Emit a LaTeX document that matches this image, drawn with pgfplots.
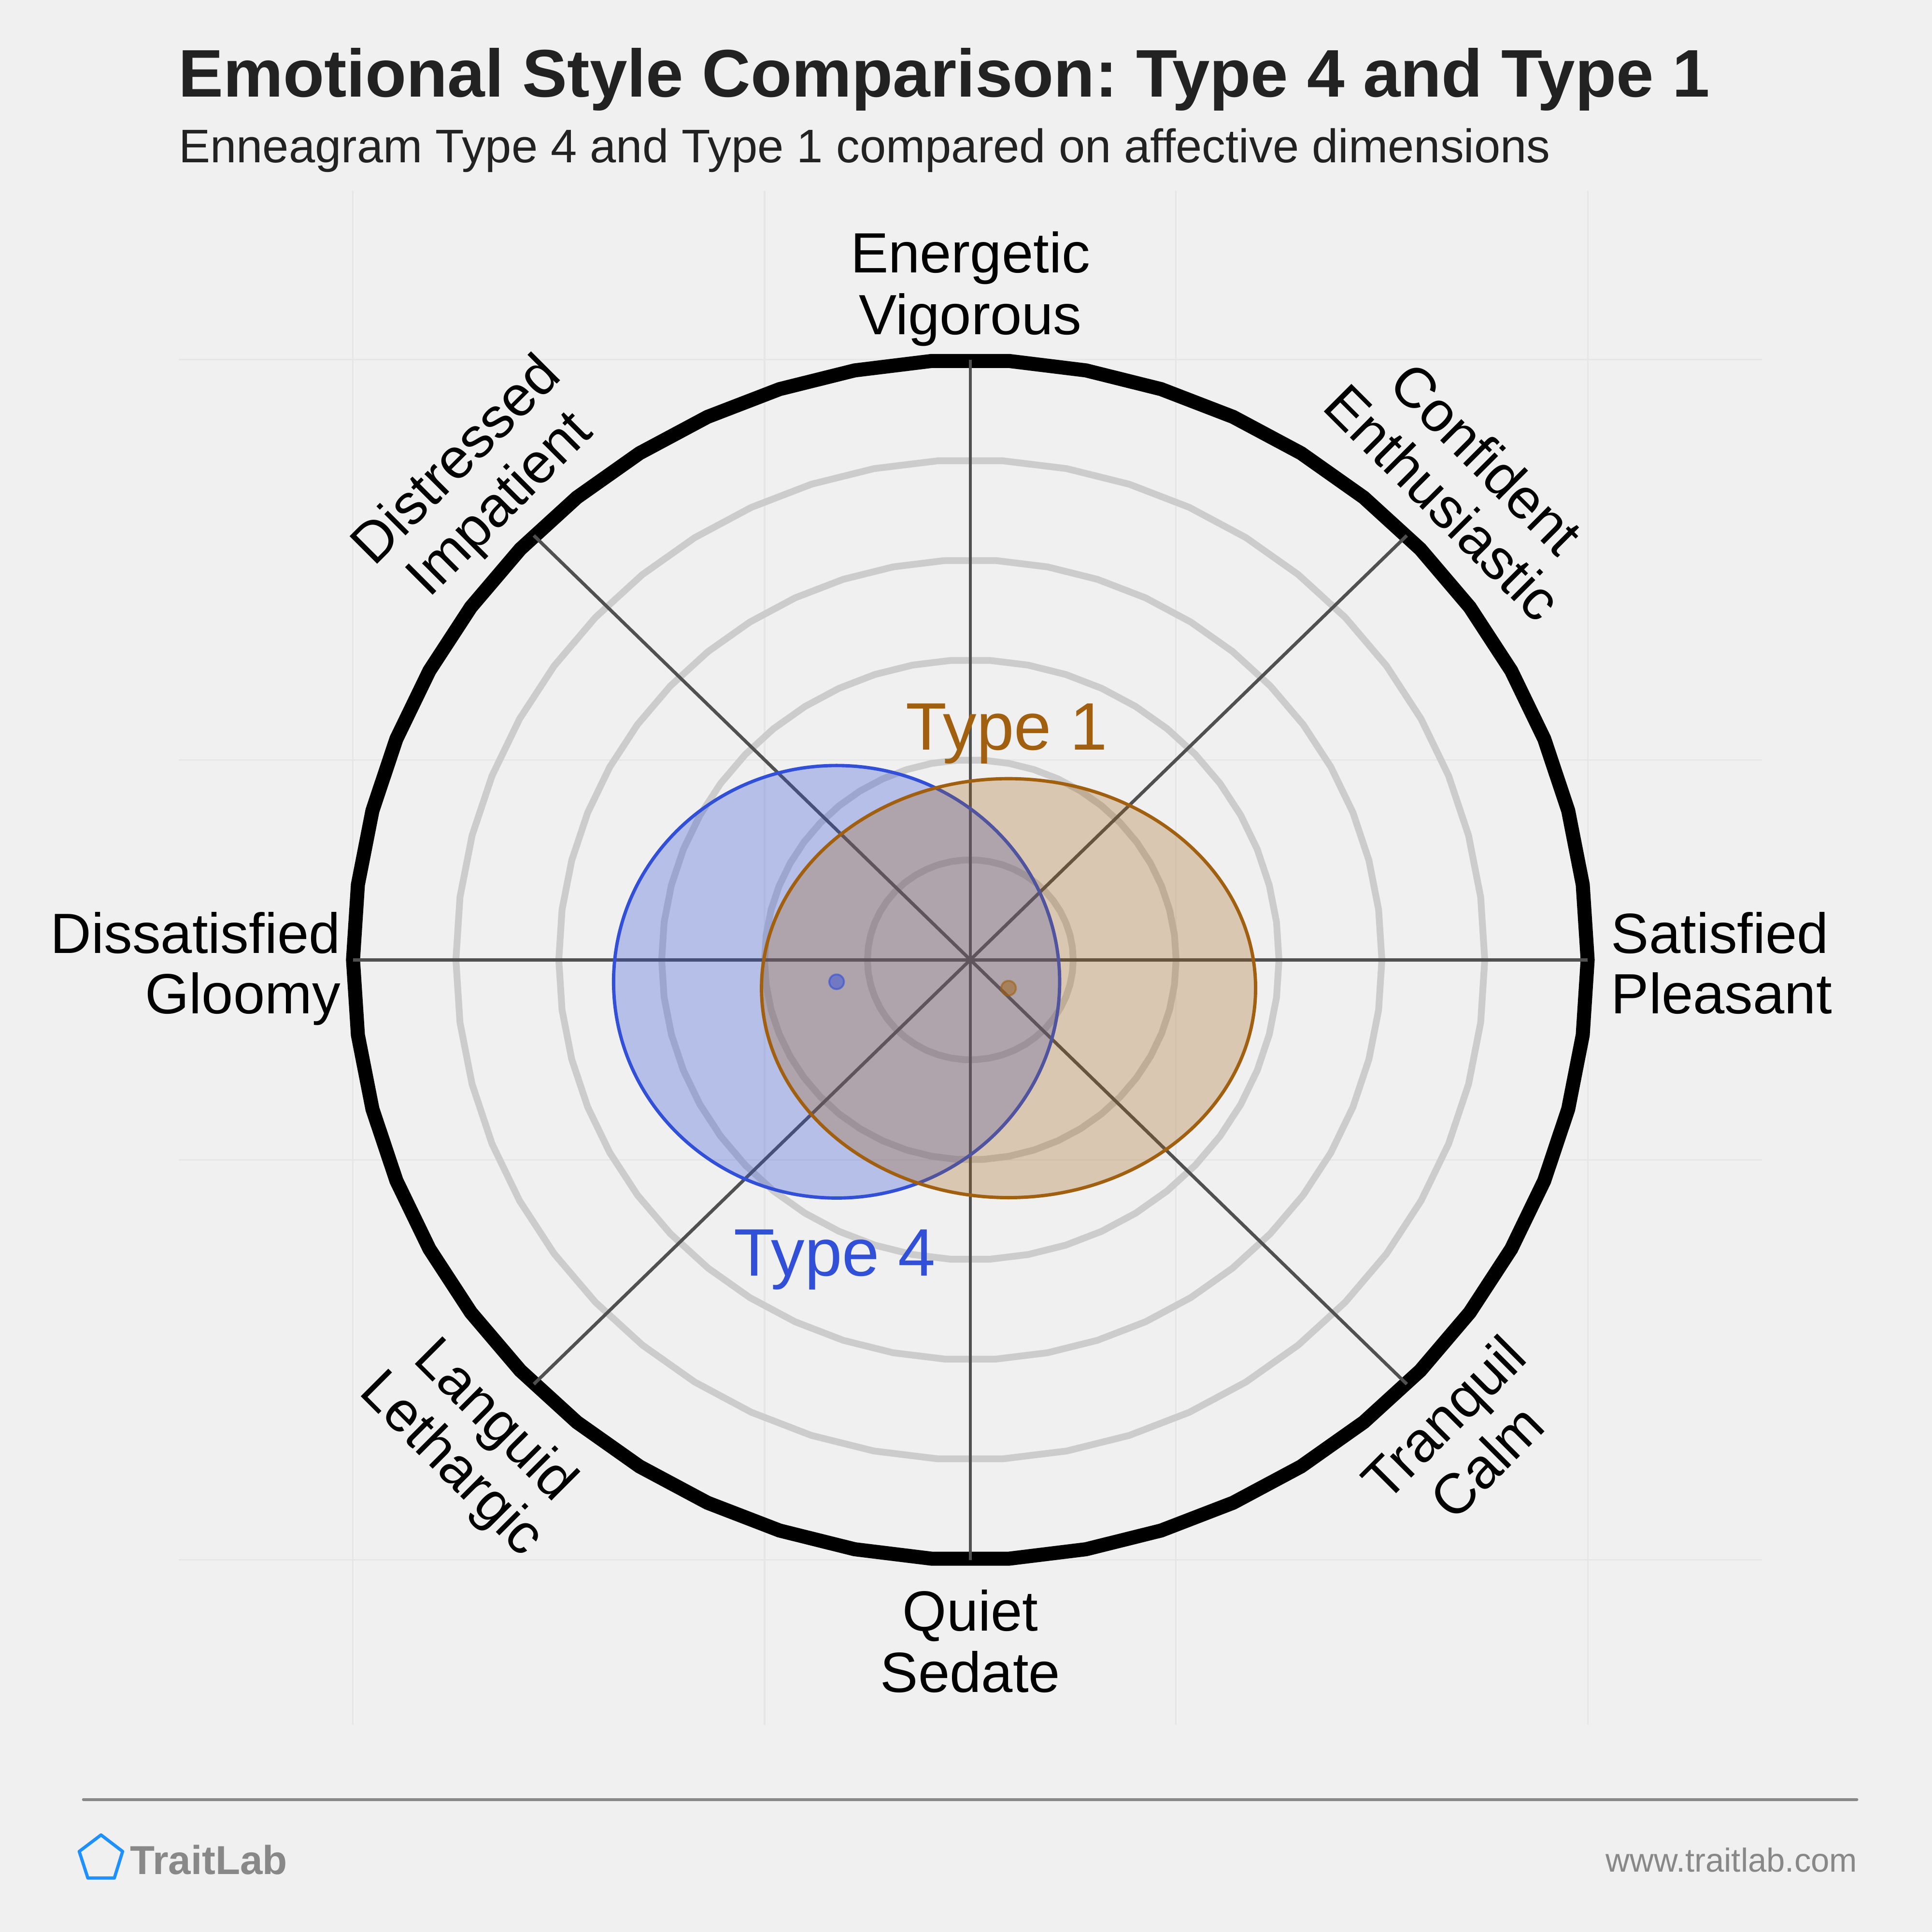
\documentclass[border=0pt]{standalone}
\usepackage{fontspec}
\setmainfont{Liberation Sans}
\usepackage{pgfplots}
\pgfplotsset{compat=1.18}
\frenchspacing
\definecolor{bg}{HTML}{F0F0F0}
\definecolor{titlec}{HTML}{222222}
\definecolor{faint}{HTML}{E6E6E6}
\definecolor{ringc}{HTML}{CCCCCC}
\definecolor{axc}{HTML}{505050}
\definecolor{footc}{HTML}{888888}
\definecolor{logoblue}{HTML}{1E90FF}
\definecolor{tblue}{HTML}{3250D7}
\definecolor{tbrown}{HTML}{A06010}
\newcommand\lblfont{\fontsize{13.09}{15}\selectfont}
\newcommand\ring[2][]{\draw[#1] (axis cs:#2,0) \foreach \k in {1,...,49} { -- (axis cs:{#2*cos(7.2*\k)},{#2*sin(7.2*\k)}) } -- cycle;}
\begin{document}
\begin{tikzpicture}
% ---------- page frame (coordinates in pixels of a 1568 x 1568 canvas) ----------
\begin{axis}[at={(0,0)}, anchor=south west, x=0.1mm, y=0.1mm,
  xmin=0, xmax=1568, ymin=0, ymax=1568, y dir=reverse, hide axis, clip=false]
\fill[bg] (axis cs:0,0) rectangle (axis cs:1568,1568);
\node[anchor=base west, inner sep=0, text=titlec, font=\fontsize{15.55}{18}\selectfont\bfseries]
  at (axis cs:144,78.7) {Emotional Style Comparison: Type 4 and Type 1};
\node[anchor=base west, inner sep=0, text=titlec, font=\fontsize{10.88}{13}\selectfont]
  at (axis cs:144.5,132) {Enneagram Type 4 and Type 1 compared on affective dimensions};
\draw[footc, line width=0.235mm, line cap=round] (axis cs:67.7,1460.4) -- (axis cs:1507,1460.4);
\draw[logoblue, line width=0.26mm, line join=round] (axis cs:82,1489.2) -- (axis cs:99.5,1502.6)
  -- (axis cs:92.8,1524.2) -- (axis cs:71.3,1524.2) -- (axis cs:64.3,1502.6) -- cycle;
\node[anchor=base west, inner sep=0, text=footc, font=\fontsize{9.33}{11}\selectfont\bfseries]
  at (axis cs:105,1521) {TraitLab};
\node[anchor=base east, inner sep=0, text=footc, font=\fontsize{7.68}{9}\selectfont]
  at (axis cs:1508,1519) {www.traitlab.com};
\end{axis}
% ---------- the chart (outer circle = radius 1) ----------
\begin{axis}[at={(0,0)}, anchor=south west, x=50.1mm, y=48.7mm,
  xmin=-1.57186, xmax=1.55788, ymin=-1.62012, ymax=1.59959, hide axis, clip=false]
% faint background grid
\foreach \g in {-1,-0.3333,0.3333,1} {
  \edef\tmp{\noexpand\draw[faint, line width=0.12mm] (axis cs:\g,-1.2752) -- (axis cs:\g,1.2813);
            \noexpand\draw[faint, line width=0.12mm] (axis cs:-1.2824,\g) -- (axis cs:1.2824,\g);}
  \tmp
}
% rings
\ring[ringc, line width=0.55mm]{0.16667}
\ring[ringc, line width=0.55mm]{0.33333}
\ring[ringc, line width=0.55mm]{0.5}
\ring[ringc, line width=0.55mm]{0.66667}
\ring[ringc, line width=0.55mm]{0.83333}
\ring[black, line width=1.14mm]{1}
% spokes
\draw[axc, line width=0.27mm] (axis cs:-1,0) -- (axis cs:1,0);
\draw[axc, line width=0.27mm] (axis cs:0,-1) -- (axis cs:0,1);
\draw[axc, line width=0.27mm] (axis cs:-0.70711,-0.70711) -- (axis cs:0.70711,0.70711);
\draw[axc, line width=0.27mm] (axis cs:-0.70711,0.70711) -- (axis cs:0.70711,-0.70711);
% Type 4
\draw[tblue, line width=0.27mm, fill=tblue, fill opacity=0.3] (axis cs:-0.2166,-0.0366) ellipse [x radius=0.3613, y radius=0.3604];
\addplot[only marks, mark=*, mark size=1.7pt, mark options={draw=tblue, draw opacity=0.6, fill=tblue, fill opacity=0.5, line width=0.15mm}]
  coordinates {(-0.2166,-0.0366)};
% Type 1
\draw[tbrown, line width=0.27mm, fill=tbrown, fill opacity=0.28] (axis cs:0.0619,-0.0472) ellipse [x radius=0.4002, y radius=0.3491];
\addplot[only marks, mark=*, mark size=1.7pt, mark options={draw=tbrown, draw opacity=0.6, fill=tbrown, fill opacity=0.5, line width=0.15mm}]
  coordinates {(0.0619,-0.0472)};
% type labels
\node[anchor=base, inner sep=0, text=tbrown, font=\fontsize{15.5}{18}\selectfont] at (axis cs:0.0589,0.3499) {Type 1};
\node[anchor=base, inner sep=0, text=tblue, font=\fontsize{15.5}{18}\selectfont] at (axis cs:-0.2196,-0.5269) {Type 4};
% cardinal labels
\node[anchor=base, inner sep=0, font=\lblfont] at (axis cs:0,1.1448) {Energetic};
\node[anchor=base, inner sep=0, font=\lblfont] at (axis cs:0,1.0421) {Vigorous};
\node[anchor=base, inner sep=0, font=\lblfont] at (axis cs:0,-1.1181) {Quiet};
\node[anchor=base, inner sep=0, font=\lblfont] at (axis cs:0,-1.2207) {Sedate};
\node[anchor=base east, inner sep=0, font=\lblfont] at (axis cs:-1.019,0.0113) {Dissatisfied};
\node[anchor=base east, inner sep=0, font=\lblfont] at (axis cs:-1.019,-0.0893) {Gloomy};
\node[anchor=base west, inner sep=0, font=\lblfont] at (axis cs:1.0369,0.0113) {Satisfied};
\node[anchor=base west, inner sep=0, font=\lblfont] at (axis cs:1.0369,-0.0893) {Pleasant};
% diagonal labels
\node[inner sep=0, text height=9.37pt, text depth=0pt, font=\lblfont, rotate=45] at (axis cs:-0.836,0.836) {Distressed};
\node[inner sep=0, text height=9.37pt, text depth=0pt, font=\lblfont, rotate=45] at (axis cs:-0.766,0.763) {Impatient};
\node[inner sep=0, text height=9.37pt, text depth=0pt, font=\lblfont, rotate=-45] at (axis cs:0.836,0.836) {Confident};
\node[inner sep=0, text height=9.37pt, text depth=0pt, font=\lblfont, rotate=-45] at (axis cs:0.766,0.763) {Enthusiastic};
\node[inner sep=0, text height=9.37pt, text depth=0pt, font=\lblfont, rotate=-45] at (axis cs:-0.766,-0.763) {Languid};
\node[inner sep=0, text height=9.37pt, text depth=0pt, font=\lblfont, rotate=-45] at (axis cs:-0.836,-0.836) {Lethargic};
\node[inner sep=0, text height=9.37pt, text depth=0pt, font=\lblfont, rotate=45] at (axis cs:0.766,-0.763) {Tranquil};
\node[inner sep=0, text height=9.37pt, text depth=0pt, font=\lblfont, rotate=45] at (axis cs:0.836,-0.836) {Calm};
\end{axis}
\pgfresetboundingbox
\useasboundingbox (0,0) rectangle (156.8mm,156.8mm);
\end{tikzpicture}
\end{document}
